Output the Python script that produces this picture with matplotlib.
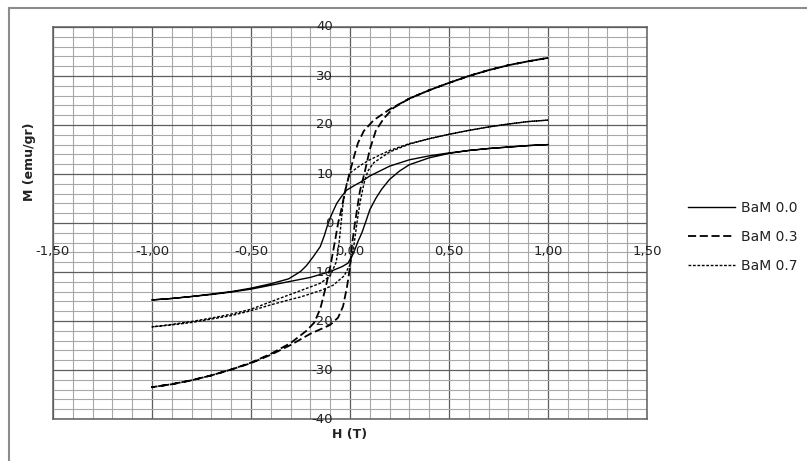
import matplotlib
matplotlib.use("Agg")
import matplotlib.pyplot as plt
from matplotlib.lines import Line2D
from matplotlib.ticker import MultipleLocator
from matplotlib.transforms import offset_copy

# values (H in T, M in emu/gr)
h00_down = [1.0, 0.9, 0.8, 0.7, 0.6, 0.5, 0.4, 0.3, 0.2, 0.14, 0.1, 0.06, 0.02, -0.017,
            -0.045, -0.067, -0.09, -0.11, -0.13, -0.15, -0.186, -0.22, -0.25, -0.31,
            -0.4, -0.5, -0.6, -0.7, -0.8, -0.9, -1.0]
m00_down = [16.0, 15.8, 15.5, 15.2, 14.8, 14.3, 13.7, 12.9, 11.6, 10.4, 9.6, 8.5, 7.6, 6.7,
            5.3, 4.0, 2.0, 0.0, -2.6, -4.8, -6.9, -8.7, -9.9, -11.4,
            -12.4, -13.3, -14.0, -14.5, -15.0, -15.4, -15.7]
h00_up = [-1.0, -0.9, -0.8, -0.7, -0.6, -0.5, -0.4, -0.3, -0.2, -0.1, -0.04, -0.01, 0.017,
          0.04, 0.06, 0.08, 0.1, 0.13, 0.16, 0.2, 0.25, 0.3, 0.4, 0.5, 0.6, 0.7, 0.8, 0.9, 1.0]
m00_up = [-15.7, -15.4, -15.0, -14.6, -14.1, -13.5, -12.7, -11.9, -11.1, -9.9, -8.9, -8.2, -6.2,
          -3.8, -2.0, 0.3, 2.7, 5.0, 6.9, 8.9, 10.6, 11.9, 13.3, 14.2, 14.8, 15.2, 15.5, 15.8, 16.0]

h03_down = [1.0, 0.9, 0.8, 0.7, 0.6, 0.5, 0.4, 0.3, 0.2, 0.12, 0.07, 0.04, 0.02, 0.0,
            -0.025, -0.045, -0.06, -0.075, -0.1, -0.125, -0.15, -0.18, -0.22, -0.3,
            -0.4, -0.5, -0.6, -0.7, -0.8, -0.9, -1.0]
m03_down = [33.7, 33.0, 32.2, 31.2, 30.0, 28.6, 27.1, 25.4, 23.2, 21.0, 18.8, 16.3, 13.5, 10.5,
            6.5, 2.5, 0.0, -3.5, -9.0, -13.5, -17.5, -20.3, -22.0, -24.5,
            -26.7, -28.5, -29.9, -31.1, -32.1, -32.9, -33.5]
h03_up = [-1.0, -0.9, -0.8, -0.7, -0.6, -0.5, -0.4, -0.3, -0.2, -0.1, -0.06, -0.035, -0.015,
          0.0, 0.01, 0.025, 0.05, 0.075, 0.1, 0.13, 0.17, 0.22, 0.3, 0.4, 0.5, 0.6, 0.7, 0.8,
          0.9, 1.0]
m03_up = [-33.5, -32.9, -32.1, -31.1, -29.9, -28.6, -26.9, -24.9, -22.6, -20.8, -19.3, -17.0, -13.0,
          -9.0, -4.5, 0.0, 6.5, 10.5, 15.0, 18.8, 21.3, 23.5, 25.4, 27.1, 28.6, 30.0, 31.2, 32.2,
          33.0, 33.7]

h07_down = [1.0, 0.9, 0.8, 0.7, 0.6, 0.5, 0.4, 0.3, 0.2, 0.1, 0.05, 0.0, -0.02, -0.035,
            -0.045, -0.055, -0.07, -0.1, -0.15, -0.25, -0.35, -0.5, -0.6, -0.7, -0.8, -0.9, -1.0]
m07_down = [21.0, 20.7, 20.2, 19.6, 18.9, 18.1, 17.2, 16.2, 14.8, 12.9, 11.7, 10.2, 7.5, 4.0,
            0.0, -4.0, -8.0, -10.8, -12.3, -13.8, -15.3, -17.6, -18.6, -19.4, -20.1, -20.7, -21.2]
h07_up = [-1.0, -0.9, -0.8, -0.7, -0.6, -0.5, -0.4, -0.3, -0.25, -0.15, -0.085, -0.03, 0.0,
          0.02, 0.035, 0.05, 0.07, 0.09, 0.12, 0.2, 0.3, 0.4, 0.5, 0.6, 0.7, 0.8, 0.9, 1.0]
m07_up = [-21.2, -20.8, -20.3, -19.6, -18.9, -17.9, -16.7, -15.6, -15.1, -13.8, -12.7, -10.8, -8.5,
          -4.5, 0.0, 4.0, 8.0, 10.6, 12.3, 14.5, 16.1, 17.2, 18.1, 18.9, 19.6, 20.2, 20.7, 21.0]

series_names = ["BaM 0.0", "BaM 0.3", "BaM 0.7"]
x_tick_values = [-1.5, -1.0, -0.5, 0.0, 0.5, 1.0, 1.5]
x_tick_labels = ["-1,50", "-1,00", "-0,50", "0,00", "0,50", "1,00", "1,50"]
y_tick_values = [-40, -30, -20, -10, 0, 10, 20, 30, 40]
y_tick_labels = ["-40", "-30", "-20", "-10", "0", "10", "20", "30", "40"]

plt.rcParams["font.family"] = ["DejaVu Sans"]

W, H = 807, 461
fig = plt.figure(figsize=(W / 100, H / 100), dpi=100)
ax = fig.add_axes([53 / W, (H - 419) / H, 594 / W, 392 / H])

ax.set_xlim(-1.5, 1.5)
ax.set_ylim(-40, 40)
ax.xaxis.set_major_locator(MultipleLocator(0.5))
ax.xaxis.set_minor_locator(MultipleLocator(0.1))
ax.yaxis.set_major_locator(MultipleLocator(10))
ax.yaxis.set_minor_locator(MultipleLocator(2))
ax.grid(which="minor", color="#a8a8a8", linewidth=0.8)
ax.grid(which="major", color="#5e5e5e", linewidth=0.9)
ax.set_axisbelow(True)
ax.tick_params(which="both", length=0, labelbottom=False, labelleft=False)
for s in ax.spines.values():
    s.set_color("#5e5e5e")
    s.set_linewidth(1.1)

styles = [
    dict(color="black", linewidth=1.0, linestyle="-"),
    dict(color="black", linewidth=1.3, linestyle=(0, (4.5, 2.0))),
    dict(color="black", linewidth=1.0, linestyle=(0, (2.0, 1.2))),
]
loops = [
    (h00_down + h00_up, m00_down + m00_up),
    (h03_down + h03_up, m03_down + m03_up),
    (h07_down + h07_up, m07_down + m07_up),
]
handles = []
for (hx, my), st, name in zip(loops, styles, series_names):
    line, = ax.plot(hx, my, label=name, **st)
    handles.append(line)

# tick labels sit next to the axes crossing at the origin
x_tr = offset_copy(ax.transData, fig=fig, x=0, y=-29, units="dots")
for v, lab in zip(x_tick_values, x_tick_labels):
    ax.text(v, 0, lab, transform=x_tr, ha="center", va="center",
            fontsize=9.5, color="#222222")
y_tr = offset_copy(ax.transData, fig=fig, x=-17, y=0, units="dots")
for v, lab in zip(y_tick_values, y_tick_labels):
    ax.text(0, v, lab, transform=y_tr, ha="right", va="center",
            fontsize=9.5, color="#222222")

fig.text(30 / W, 1 - 162 / H, "M (emu/gr)", rotation=90, ha="center", va="center",
         fontsize=9, fontweight="bold", color="#222222")
fig.text(350 / W, 1 - 434 / H, "H (T)", ha="center", va="center",
         fontsize=9, fontweight="bold", color="#222222")

fig.legend(handles=handles, labels=series_names, loc="center left",
           bbox_to_anchor=(688 / W, 1 - 237 / H), frameon=False, fontsize=10,
           handlelength=3.4, handletextpad=0.4, labelspacing=1.1,
           borderpad=0, borderaxespad=0, labelcolor="#222222")

# chart border (only top and left edges show in the picture)
fig.add_artist(Line2D([9 / W, 1], [1 - 8 / H, 1 - 8 / H], transform=fig.transFigure,
                      color="#8c8c8c", linewidth=1.5))
fig.add_artist(Line2D([9 / W, 9 / W], [0, 1 - 8 / H], transform=fig.transFigure,
                      color="#8c8c8c", linewidth=1.5))

fig.savefig("out.png", dpi=100)
